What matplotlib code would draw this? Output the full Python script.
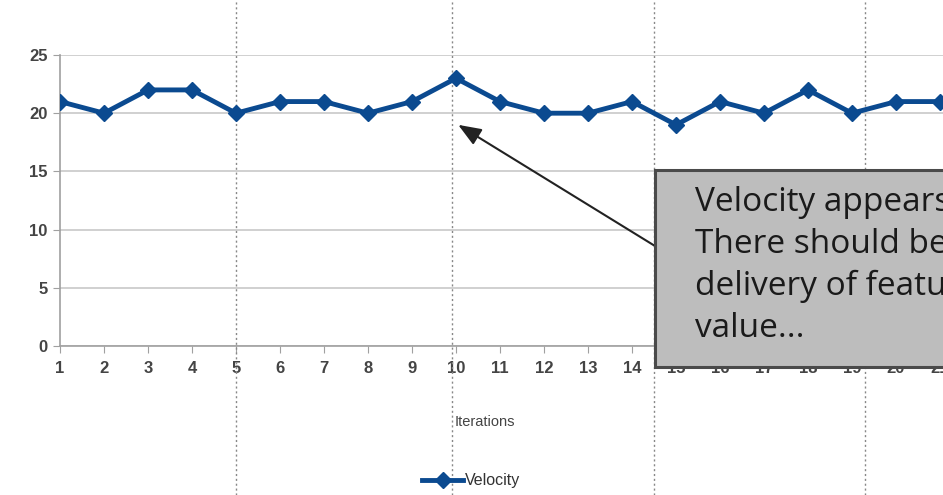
import matplotlib.pyplot as plt
import matplotlib.transforms as mtransforms
from matplotlib.patches import Rectangle

iterations = list(range(1, 22))
velocity = [21, 20, 22, 22, 20, 21, 21, 20, 21, 23, 21, 20, 20, 21, 19, 21, 20, 22, 20, 21, 21]
y_ticks = [0, 5, 10, 15, 20, 25]
# slide guide lines, in iteration units
guides = [5, 9.9, 14.5, 19.3]

note = ("Velocity appears stable.\n"
        "There should be steady\n"
        "delivery of features and\n"
        "value...")

W, H = 943, 495
fig = plt.figure(figsize=(W / 100, H / 100), dpi=100)
ax = fig.add_axes([60 / W, (H - 346) / H, (W - 60) / W, 291 / H])

blue = "#0b4a90"
ax.plot(iterations, velocity, color=blue, lw=3.5, marker="D", ms=8.5,
        label="Velocity", zorder=3)

ax.set_xlim(1, 1 + (W - 60) / 44)
ax.set_ylim(0, 25)
ax.set_xticks(iterations)
ax.set_yticks(y_ticks)
ax.grid(axis="y", color="#c8c8c8", lw=1.2)
ax.set_axisbelow(True)
for s in ["top", "right"]:
    ax.spines[s].set_visible(False)
for s in ["left", "bottom"]:
    ax.spines[s].set_color("#a0a0a0")
    ax.spines[s].set_linewidth(1.2)
ax.tick_params(length=5, color="#a0a0a0", labelsize=12, labelcolor="#444444",
               pad=6)
ax.tick_params(axis="y", pad=4)
for lbl in ax.get_xticklabels() + ax.get_yticklabels():
    lbl.set_family("Liberation Sans")
    lbl.set_fontweight("bold")
ax.set_xlabel("Iterations", fontsize=10.5, color="#444444",
              family="Liberation Sans")
ax.xaxis.set_label_coords((485 - 60) / (W - 60), (346 - 415) / 291)

fig.legend(loc="center", bbox_to_anchor=(471 / W, 1 - 481 / H), frameon=False,
           prop={"family": "Liberation Sans", "size": 11.5},
           handlelength=2.6, handletextpad=0.1,
           labelcolor="#333333")

# dotted guides running the full height of the slide
trans = mtransforms.blended_transform_factory(ax.transData, fig.transFigure)
for g in guides:
    ax.plot([g, g], [0, 1], transform=trans, clip_on=False, color="#888888",
            lw=1, ls=(0, (1.5, 2)), zorder=1)

# callout box with arrow
box_x0, box_y0 = 655 / W, 1 - 367 / H
fig.patches.append(Rectangle((box_x0, box_y0), 0.5, (367 - 170) / H,
                             transform=fig.transFigure, facecolor="#bdbdbd",
                             edgecolor="#4a4a4a", lw=2.2, zorder=5))
fig.text(695 / W, 1 - 186 / H, note, va="top", ha="left", fontsize=24,
         family="Open Sans", color="#1a1a1a", linespacing=1.36, zorder=6)
ax.annotate("", xy=(10.05, 19.0), xycoords="data",
            xytext=(655 / W, 1 - 246 / H), textcoords="figure fraction",
            arrowprops=dict(arrowstyle="-|>,head_length=1.4,head_width=0.55",
                            color="#222222", lw=1.5, shrinkA=0, shrinkB=0),
            annotation_clip=False, zorder=4)

fig.savefig("out.png", dpi=100)
